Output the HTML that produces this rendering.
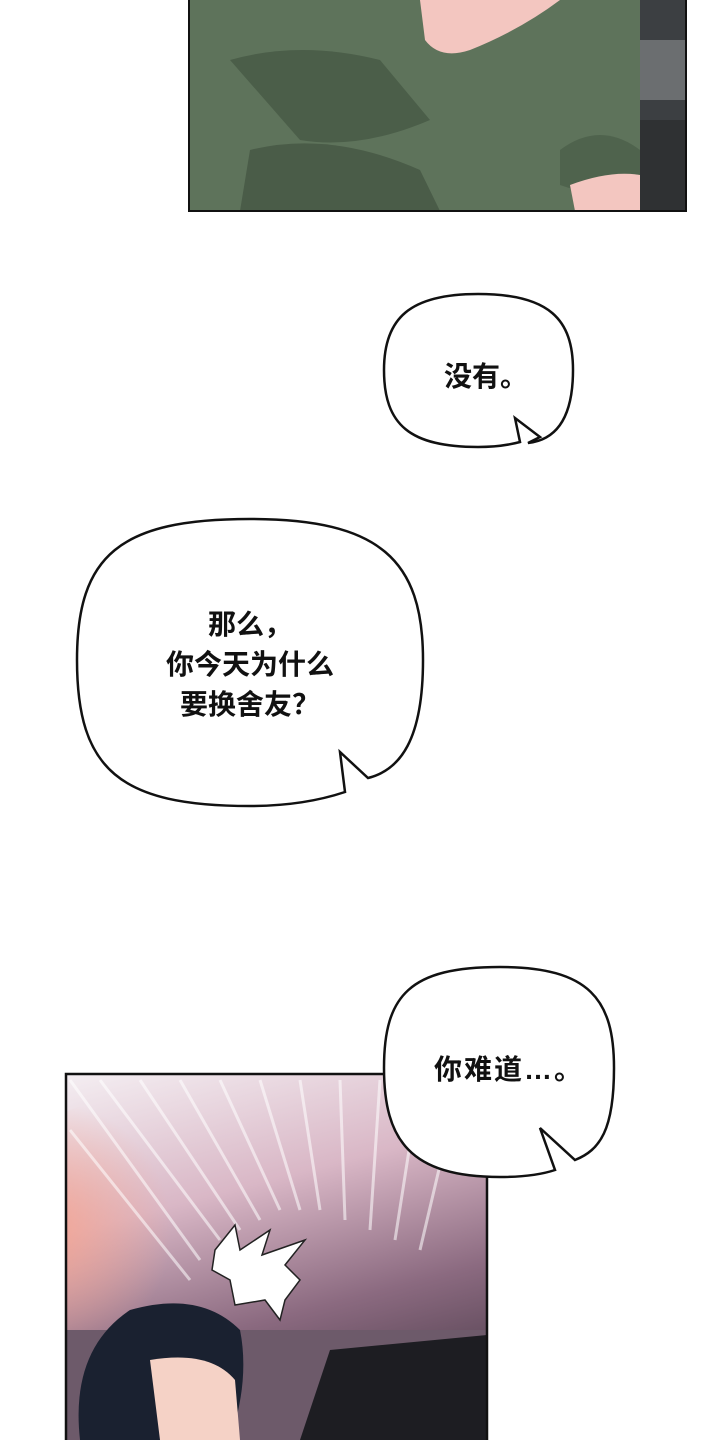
<!DOCTYPE html>
<html><head><meta charset="utf-8"><style>
html,body{margin:0;padding:0;background:#fff;}
body{width:720px;height:1440px;position:relative;overflow:hidden;font-family:"Liberation Sans","Noto Sans CJK SC",sans-serif;}
.t{position:absolute;font-weight:bold;color:#111;font-size:28px;text-align:center;white-space:nowrap;}
</style></head><body>
<svg width="720" height="1440" style="position:absolute;left:0;top:0">
<defs>
<linearGradient id="bg2" x1="0" y1="0" x2="0.3" y2="1">
<stop offset="0" stop-color="#f4eef2"/><stop offset="0.4" stop-color="#d9b7c6"/><stop offset="0.75" stop-color="#8b6a80"/><stop offset="1" stop-color="#5a4656"/></linearGradient>
<radialGradient id="glow" cx="0.2" cy="0.5" r="0.5"><stop offset="0" stop-color="#f7a38e" stop-opacity="0.9"/><stop offset="1" stop-color="#f7a38e" stop-opacity="0"/></radialGradient>
<clipPath id="c1"><rect x="189" y="0" width="497" height="211"/></clipPath>
<clipPath id="c2"><rect x="66" y="1074" width="421" height="366"/></clipPath>
</defs>
<g clip-path="url(#c1)">
<rect x="189" y="0" width="497" height="211" fill="#3c3f42"/>
<rect x="500" y="40" width="186" height="60" fill="#6b6e70"/>
<rect x="520" y="120" width="166" height="91" fill="#2f3133"/>
<path d="M189 0 H640 V170 L600 211 H189 Z" fill="#5e735b"/>
<path d="M230 60 Q300 40 380 60 L430 120 Q360 150 300 140 Z" fill="#4b5e49"/>
<path d="M250 150 Q330 130 420 170 L440 211 H240 Z" fill="#4a5c48"/>
<path d="M560 150 Q600 120 640 150 L640 180 Q600 200 560 185 Z" fill="#4f634d"/>
<path d="M420 0 H560 Q520 30 470 50 Q440 60 425 40 Z" fill="#f3c6c0"/>
<path d="M570 185 Q610 170 640 175 L640 211 H575 Z" fill="#f3c6c0"/>
</g>
<rect x="189" y="-2" width="497" height="213" fill="none" stroke="#111" stroke-width="2"/>
<path d="M478 294 C550 294 573 320 573 370 C573 420 555 440 528 443 L540 437 L515 418 L520 442 C505 446 490 447 478 447 C410 447 384 425 384 370 C384 318 410 294 478 294 Z" fill="#fff" stroke="#111" stroke-width="2.5"/>
<path d="M250 519 C380 519 423 560 423 660 C423 740 400 770 368 778 L340 752 L345 792 C315 802 285 806 250 806 C120 806 77 770 77 660 C77 555 120 519 250 519 Z" fill="#fff" stroke="#111" stroke-width="2.5"/>
<g clip-path="url(#c2)">
<rect x="66" y="1074" width="421" height="366" fill="url(#bg2)"/>
<ellipse cx="120" cy="1230" rx="130" ry="130" fill="url(#glow)"/>
<g stroke="#fff" stroke-opacity="0.55" stroke-width="3">
<line x1="70" y1="1080" x2="200" y2="1260"/><line x1="100" y1="1080" x2="220" y2="1240"/>
<line x1="140" y1="1080" x2="240" y2="1230"/><line x1="180" y1="1080" x2="260" y2="1220"/>
<line x1="220" y1="1080" x2="280" y2="1210"/><line x1="260" y1="1080" x2="300" y2="1210"/>
<line x1="300" y1="1080" x2="320" y2="1210"/><line x1="340" y1="1080" x2="345" y2="1220"/>
<line x1="380" y1="1080" x2="370" y2="1230"/><line x1="420" y1="1080" x2="395" y2="1240"/>
<line x1="460" y1="1080" x2="420" y2="1250"/><line x1="70" y1="1130" x2="190" y2="1280"/>
</g>
<path d="M66 1330 H487 V1440 H66 Z" fill="#6d5a6a"/>
<path d="M330 1350 L487 1335 V1440 H300 Z" fill="#1d1d22"/>
<path d="M80 1440 Q70 1350 130 1310 Q200 1290 240 1330 Q250 1380 230 1440 Z" fill="#1a2130"/>
<path d="M150 1360 Q210 1350 235 1380 L240 1440 H160 Z" fill="#f5d2c6"/>
<path d="M215 1250 L235 1225 L240 1250 L270 1230 L262 1255 L305 1240 L285 1265 L300 1280 L285 1300 L280 1320 L265 1300 L235 1305 L230 1280 L212 1270 Z" fill="#fff" stroke="#222" stroke-width="1.5"/>
</g>
<rect x="66" y="1074" width="421" height="370" fill="none" stroke="#111" stroke-width="2.5"/>
<path d="M500 967 C590 967 614 1000 614 1068 C614 1130 600 1150 575 1160 L540 1128 L555 1170 C540 1175 520 1177 500 1177 C410 1177 384 1140 384 1068 C384 995 410 967 500 967 Z" fill="#fff" stroke="#111" stroke-width="2.5"/>
</svg>
<div class="t" style="left:391px;width:190px;top:355px;">没有。</div>
<div class="t" style="left:77px;width:346px;top:605px;line-height:40px;">那么，<br>你今天为什么<br>要换舍友？</div>
<div class="t" style="left:394px;width:230px;top:1048px;letter-spacing:2px;">你难道…。</div>
</body></html>
